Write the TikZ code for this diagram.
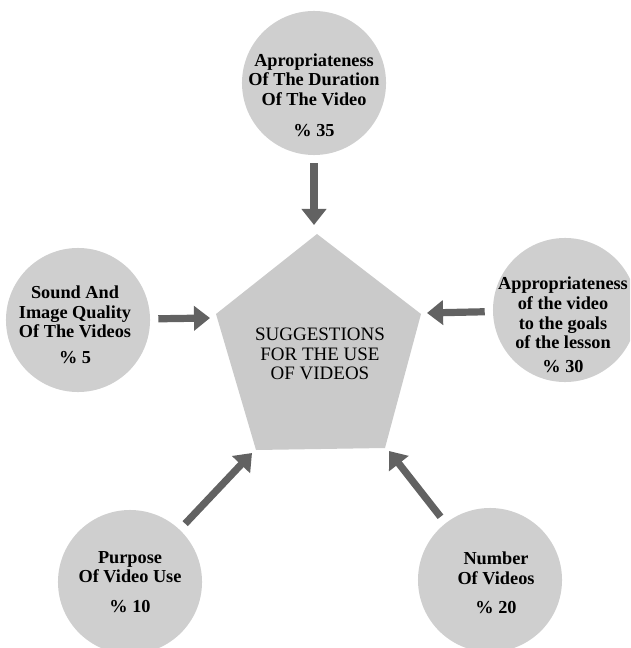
\documentclass[tikz,border=0pt]{standalone}
\usepackage{fontspec}
\setmainfont{Liberation Serif}
\usetikzlibrary{arrows.meta,positioning,calc}
\definecolor{bubblegray}{RGB}{207,207,207}
\definecolor{hubgray}{RGB}{202,202,202}
\definecolor{arrowgray}{RGB}{98,98,98}

\begin{document}
\begin{tikzpicture}[x=0.025cm, y=-0.025cm,
  bubble/.style={circle, fill=bubblegray, minimum size=3.6cm, inner sep=0pt},
  bubtext/.style={align=center, font=\fontsize{13}{14}\selectfont\bfseries},
  link/.style={-{Triangle[length=0.4cm, width=0.6cm]}, line width=0.18cm, draw=arrowgray, shorten <=0.2cm}]
\useasboundingbox (0,0) rectangle (630,648);
\clip (0,0) rectangle (630,648);
% outer circles
\node[bubble] (dur) at (314,83) {};
\node[bubble] (sound) at (78,320) {};
\node[bubble] (goals) at (565,310) {};
\node[bubble] (purpose) at (130,582) {};
\node[bubble] (number) at (490,580) {};
\node[bubtext] (durtxt) at (314,95) {Apropriateness\\Of The Duration\\Of The Video\\[8pt]\% 35};
\node[bubtext] (soundtxt) at (75,325) {Sound And\\Image Quality\\Of The Videos\\[4.5pt]\% 5};
\node[bubtext] (goalstxt) at (563,325) {Appropriateness\\of the video\\to the goals\\of the lesson\\[3pt]\% 30};
\node[bubtext] (purposetxt) at (130,582) {Purpose\\Of Video Use\\[7pt]\% 10};
\node[bubtext] (numbertxt) at (496,583) {Number\\Of Videos\\[7pt]\% 20};
% central pentagon
\fill[hubgray] (317,234) -- (421,314) -- (385,448) -- (256,450) -- (216,314) -- cycle;
\node[align=center, font=\fontsize{13.5}{14}\selectfont] (hub) at (320,354) {SUGGESTIONS\\FOR THE USE\\OF VIDEOS};
% arrow tips
\coordinate (durtip) at (314,225);
\coordinate (soundtip) at (210,318);
\coordinate (goalstip) at (427,313);
\coordinate (purposetip) at (252,453);
\coordinate (numbertip) at (389,451);
\draw[link] (dur) -- (durtip);
\draw[link] (sound) -- (soundtip);
\draw[link] (goals) -- (goalstip);
\draw[link] (purpose) -- (purposetip);
\draw[link] (number) -- (numbertip);
\end{tikzpicture}
\end{document}
